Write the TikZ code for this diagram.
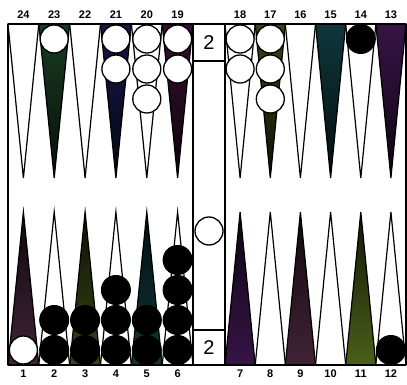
\documentclass[tikz,border=0pt]{standalone}
\usepackage{fontspec}
\setmainfont{Liberation Sans}
\definecolor{ptwhite}{RGB}{255,255,255}
\definecolor{ptgreen}{RGB}{25,60,35}
\definecolor{ptnavy}{RGB}{20,25,75}
\definecolor{ptplum}{RGB}{55,15,50}
\definecolor{ptolive}{RGB}{55,70,20}
\definecolor{ptteal}{RGB}{15,55,60}
\definecolor{ptpurple}{RGB}{55,20,70}
\definecolor{ptmauve}{RGB}{65,35,55}
\definecolor{ptmoss}{RGB}{75,95,25}
% tip colours of the points
\colorlet{tipptwhite}{white}
\colorlet{tipptgreen}{ptgreen!25!black}
\colorlet{tipptnavy}{ptnavy!25!black}
\colorlet{tipptplum}{ptplum!25!black}
\colorlet{tipptolive}{ptolive!25!black}
\colorlet{tipptteal}{ptteal!25!black}
\colorlet{tipptpurple}{ptpurple!25!black}
\colorlet{tipptmauve}{ptmauve!25!black}
\colorlet{tipptmoss}{ptmoss!25!black}
\begin{document}
\begin{tikzpicture}[x=1pt, y=-1pt,
    frame/.style={line width=1.2pt, black},
    pointline/.style={line width=1.2pt, black, line join=miter},
    whitestone/.style={line width=1.3pt, draw=black, fill=white},
    blackstone/.style={line width=1pt, draw=black, fill=black},
    pointnum/.style={font=\fontsize{11}{11}\selectfont\bfseries, inner sep=0pt},
    cubenum/.style={font=\fontsize{20}{20}\selectfont, inner sep=0pt}
]
    \useasboundingbox (0,0) rectangle (407,385);
    % Points: centre x / half width / top colour / top number / bottom colour / bottom number
    \foreach \cx/\hw/\ctop/\ntop/\cbot/\nbot in {
        23.4/15.4/ptwhite/24/ptmauve/1,
        54.2/15.4/ptgreen/23/ptwhite/2,
        85.1/15.4/ptwhite/22/ptolive/3,
        115.9/15.4/ptnavy/21/ptwhite/4,
        146.8/15.4/ptwhite/20/ptteal/5,
        177.6/15.4/ptplum/19/ptwhite/6,
        240.1/15.1/ptwhite/18/ptpurple/7,
        270.3/15.1/ptolive/17/ptwhite/8,
        300.4/15.1/ptwhite/16/ptmauve/9,
        330.6/15.1/ptteal/15/ptwhite/10,
        360.8/15.1/ptwhite/14/ptmoss/11,
        390.9/15.1/ptpurple/13/ptwhite/12} {
        \shadedraw [pointline, top color=\ctop, bottom color=tip\ctop]
            (\cx-\hw,24) -- (\cx,178) -- (\cx+\hw,24) -- cycle;
        \shadedraw [pointline, top color=tip\cbot, bottom color=\cbot]
            (\cx-\hw,365) -- (\cx,212) -- (\cx+\hw,365) -- cycle;
        \node [pointnum] (top\ntop) at (\cx,15) {\ntop};
        \node [pointnum] (bot\nbot) at (\cx,374) {\nbot};
    }
    % Board frame and bar
    \draw [frame] (8,24) -- (406,24);
    \draw [frame] (8,365) -- (406,365);
    \draw [frame] (8,24) -- (8,365);
    \draw [frame] (406,24) -- (406,365);
    \draw [frame, fill=white] (193,24) rectangle (225,365);
    \draw [frame] (193,61) -- (225,61);
    \draw [frame] (193,330) -- (225,330);
    \node [cubenum] (cubetop) at (209,43) {2};
    \node [cubenum] (cubebot) at (209,348) {2};
    % White stones
    \foreach \cx/\n in {54.2/1, 115.9/2, 146.8/3, 177.6/2, 240.1/2, 270.3/3}
        \foreach \k in {1,...,\n}
            \draw [whitestone] (\cx,{39+30*(\k-1)}) circle (14);
    \draw [whitestone] (23.4,350) circle (14);
    \draw [whitestone] (209,231) circle (14);
    % Black stones
    \foreach \cx/\n in {54.2/2, 85.1/2, 115.9/3, 146.8/2, 177.6/4, 390.9/1}
        \foreach \k in {1,...,\n}
            \draw [blackstone] (\cx,{350-30*(\k-1)}) circle (14.5);
    \draw [blackstone] (360.8,39) circle (14.5);
\end{tikzpicture}
\end{document}
